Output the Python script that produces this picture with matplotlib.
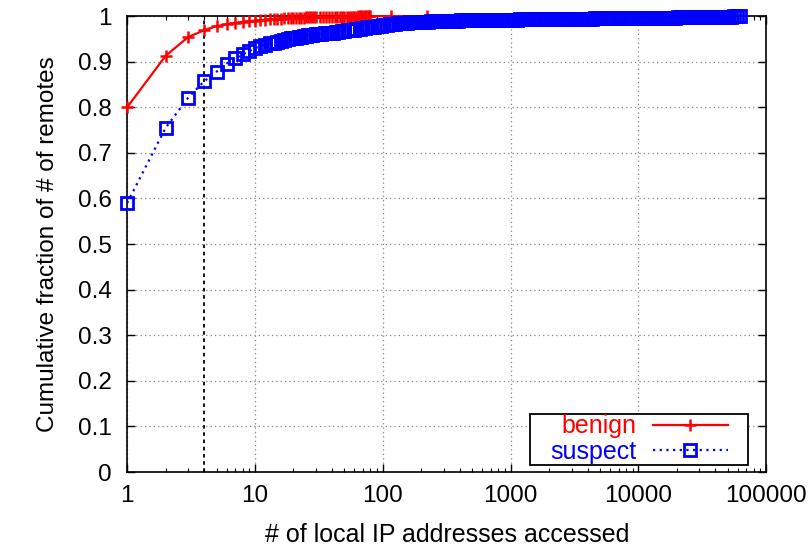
import matplotlib
matplotlib.use("Agg")
import matplotlib.pyplot as plt
from matplotlib.patches import Rectangle
from matplotlib.ticker import FixedLocator, LogLocator, NullFormatter

plt.rcParams['font.family'] = ['Liberation Sans', 'DejaVu Sans']

# CDF of local IP addresses touched per remote host
benign_x = [1, 2, 3, 4, 5, 6, 7, 8, 9, 10, 11, 12, 13, 14, 15, 16, 17, 18, 19,
            20, 21, 22, 23, 24, 25, 26, 27, 28, 29, 30, 32, 34, 36, 38, 40, 42,
            44, 46, 48, 50, 52, 54, 56, 58, 60, 62, 64, 66, 68, 70, 72, 74, 76,
            78, 80, 115, 220]
benign_y = [0.800, 0.913, 0.954, 0.969, 0.978, 0.982, 0.985, 0.987, 0.989,
            0.990, 0.991, 0.992, 0.993, 0.9935, 0.994, 0.9945, 0.995, 0.9953,
            0.9956, 0.996, 0.9962, 0.9964, 0.9966, 0.9968, 0.997, 0.9971,
            0.9972, 0.9973, 0.9974, 0.9975, 0.9976, 0.9977, 0.9978, 0.9979,
            0.998, 0.9981, 0.9982, 0.9983, 0.9984, 0.9985, 0.9986, 0.9987,
            0.9988, 0.9989, 0.999, 0.9991, 0.9992, 0.9993, 0.9994, 0.9995,
            0.9996, 0.9996, 0.9997, 0.9997, 0.9998, 0.9999, 1.0]

suspect_x = [1, 2, 3, 4, 5, 6, 7, 8, 9, 10,
             11, 12, 13, 14, 15, 16, 17, 18, 19, 20,
             21, 22, 23, 24, 25, 26, 27, 28, 30, 31,
             33, 35, 37, 39, 41, 43, 45, 48, 50, 53,
             56, 59, 62, 66, 69, 73, 77, 81, 86, 91,
             96, 101, 107, 113, 119, 125, 132, 140, 147, 155,
             164, 173, 183, 193, 203, 215, 226, 239, 252, 266,
             281, 296, 313, 330, 348, 367, 387, 409, 431, 455,
             480, 506, 534, 564, 595, 627, 662, 698, 737, 777,
             820, 865, 913, 963, 1016, 1072, 1131, 1193, 1259, 1328,
             1401, 1478, 1560, 1645, 1736, 1831, 1932, 2038, 2150, 2269,
             2393, 2525, 2664, 2811, 2965, 3128, 3300, 3482, 3673, 3875,
             4089, 4313, 4551, 4801, 5065, 5344, 5638, 5948, 6275, 6620,
             6984, 7368, 7774, 8201, 8652, 9128, 9630, 10160, 10720, 11310,
             11930, 12580, 13280, 14010, 14780, 15590, 16450, 17350, 18310, 19310,
             20380, 21500, 22680, 23930, 25240, 26630, 28100, 29640, 31270, 32990,
             34810, 36720, 38740, 40870, 43120, 45490, 47990, 50630, 53420, 56360,
             59460, 62000]
suspect_y = [0.590, 0.755, 0.821, 0.857, 0.878, 0.896, 0.907, 0.916, 0.923, 0.930,
             0.934, 0.937, 0.940, 0.942, 0.944, 0.946, 0.948, 0.949, 0.951, 0.952,
             0.953, 0.954, 0.955, 0.956, 0.957, 0.958, 0.958, 0.959, 0.960, 0.960,
             0.961, 0.962, 0.963, 0.964, 0.964, 0.965, 0.966, 0.967, 0.968, 0.969,
             0.970, 0.970, 0.971, 0.972, 0.973, 0.974, 0.975, 0.976, 0.977, 0.978,
             0.979, 0.980, 0.981, 0.982, 0.982, 0.983, 0.984, 0.984, 0.985, 0.985,
             0.986, 0.986, 0.987, 0.987, 0.988, 0.988, 0.988, 0.989, 0.989, 0.989,
             0.989, 0.989, 0.990, 0.990, 0.990, 0.990, 0.990, 0.991, 0.991, 0.991,
             0.991, 0.991, 0.991, 0.991, 0.991, 0.991, 0.992, 0.992, 0.992, 0.992,
             0.992, 0.992, 0.992, 0.992, 0.992, 0.992, 0.992, 0.993, 0.993, 0.993,
             0.993, 0.993, 0.993, 0.993, 0.993, 0.993, 0.993, 0.994, 0.994, 0.994,
             0.994, 0.994, 0.994, 0.994, 0.994, 0.994, 0.994, 0.994, 0.994, 0.994,
             0.994, 0.994, 0.995, 0.995, 0.995, 0.995, 0.995, 0.995, 0.995, 0.995,
             0.995, 0.995, 0.995, 0.995, 0.995, 0.995, 0.996, 0.996, 0.996, 0.996,
             0.996, 0.996, 0.996, 0.996, 0.996, 0.996, 0.996, 0.996, 0.996, 0.996,
             0.997, 0.997, 0.997, 0.997, 0.997, 0.998, 0.998, 0.998, 0.998, 0.998,
             0.998, 0.998, 0.998, 0.998, 0.999, 0.999, 0.999, 0.999, 0.999, 1.0,
             1.0, 1.0]

x_ticks = [1, 10, 100, 1000, 10000, 100000]
x_labels = ['1', '10', '100', '1000', '10000', '100000']
y_ticks = [0, 0.1, 0.2, 0.3, 0.4, 0.5, 0.6, 0.7, 0.8, 0.9, 1]
y_labels = ['0', '0.1', '0.2', '0.3', '0.4', '0.5', '0.6', '0.7', '0.8', '0.9', '1']
cutoff = 4

fs = 17.5
fig = plt.figure(figsize=(8.1, 5.55), dpi=100)
ax = fig.add_axes([0.157, 0.1495, 0.789, 0.8215])

ax.set_xscale('log')
ax.set_xlim(1, 100000)
ax.set_ylim(0, 1)

ax.grid(True, which='major', color='#888888', linestyle=(0, (1, 2.5)), linewidth=0.9)
ax.axvline(cutoff, color='black', linestyle=(0, (2, 2)), linewidth=1.3, zorder=1.5)

# points sit on y=1, so let the symbols spill over the frame like gnuplot does
ax.plot(benign_x, benign_y, color='red', linestyle='-', linewidth=1.6,
        marker='+', markersize=8.5, markeredgewidth=1.8, label='benign', zorder=3,
        clip_on=False)
ax.plot(suspect_x, suspect_y, color='blue', linestyle=(0, (1, 2)), linewidth=1.6,
        marker='s', markersize=8, markeredgewidth=2.0, markerfacecolor='none',
        label='suspect', zorder=4, clip_on=False)

ax.xaxis.set_major_locator(FixedLocator(x_ticks))
ax.set_xticklabels(x_labels)
ax.xaxis.set_minor_locator(LogLocator(base=10, subs=range(2, 10)))
ax.xaxis.set_minor_formatter(NullFormatter())
ax.set_yticks(y_ticks)
ax.set_yticklabels(y_labels)

ax.tick_params(which='major', direction='in', length=6, width=1, top=True, right=True,
               labelsize=fs)
ax.tick_params(axis='x', which='major', pad=9)
ax.tick_params(axis='y', which='major', pad=11)
ax.tick_params(which='minor', direction='in', length=3, width=0.8, top=True, right=True)
for s in ax.spines.values():
    s.set_linewidth(1.2)

ax.set_xlabel('# of local IP addresses accessed', fontsize=18, labelpad=12)
ax.set_ylabel('Cumulative fraction of # of remotes', fontsize=fs, labelpad=14)

leg = ax.legend(loc='lower right', bbox_to_anchor=(0.944, 0.013), markerfirst=False,
                labelcolor='linecolor', fontsize=18, handlelength=3.0,
                frameon=False, handletextpad=0.65, borderpad=0.1,
                labelspacing=0.05, borderaxespad=0)
leg.set_zorder(6)
for t in leg.get_texts():
    t.set_ha('right')

# gnuplot-style key box: wider than the entries on both sides
fig.canvas.draw()
bb = leg.get_window_extent()
W, H = fig.get_size_inches() * fig.dpi
side = 18
box = Rectangle(((bb.x0 - side) / W, (bb.y0 + 1) / H), (bb.width + 2 * side) / W,
                (bb.height - 3) / H, transform=fig.transFigure, facecolor='white',
                edgecolor='black', linewidth=1.3, zorder=5.5, clip_on=False)
ax.add_artist(box)

fig.savefig('out.png', dpi=100)
